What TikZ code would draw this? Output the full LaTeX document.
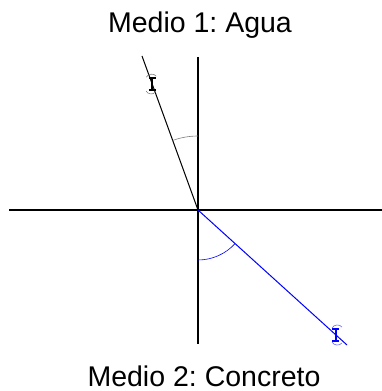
\documentclass[tikz,border=0pt]{standalone}
\usepackage{fontspec}
\setmainfont{Liberation Sans}
\usetikzlibrary{positioning}
\frenchspacing

\begin{document}
\begin{tikzpicture}[x=1bp, y=1bp, axis/.style={draw, line width=1.2bp},
    ray/.style={draw, line width=1bp}, anglemark/.style={draw, line width=0.6bp},
    beam/.style={line width=1.6bp}, label/.style={font=\fontsize{28.5bp}{34bp}\selectfont, anchor=base}]

  \useasboundingbox (0,0) rectangle (382,391);

  % axes and rays
  \coordinate (O) at (198,181);
  \coordinate (W) at (9,181);
  \coordinate (E) at (382,181);
  \coordinate (N) at (198,334);
  \coordinate (S) at (198,47);
  \coordinate (inc) at (142,335);
  \coordinate (ref) at (347,46);

  \node[label] (top) at (200,359) {Medio 1: Agua};
  \node[label] (bot) at (204,5) {Medio 2: Concreto};

  \draw[axis] (W) -- (E);
  \draw[axis] (N) -- (S);
  \draw[ray, black] (O) -- coordinate[pos=0.817] (m1) (inc);
  \draw[ray, blue] (O) -- coordinate[pos=0.926] (m2) (ref);

  % angle marks
  \draw[anglemark, gray] (O) ++(90:74) arc[start angle=90, end angle=110, radius=74];
  \draw[anglemark, blue] (O) ++(-90:50) arc[start angle=-90, end angle=-42, radius=50];

  % little markers on the rays
  \draw[beam, black] ([yshift=-6]m1) -- ([yshift=6]m1);
  \draw[beam, black] ([xshift=-3.5, yshift=6]m1) -- ([xshift=3.5, yshift=6]m1);
  \draw[beam, black] ([xshift=-3.5, yshift=-6]m1) -- ([xshift=3.5, yshift=-6]m1);
  \draw[gray, line width=0.6bp] ([xshift=-6, yshift=7]m1) to[bend left=60] ([xshift=4, yshift=8]m1);
  \draw[gray, line width=0.6bp] ([xshift=-6, yshift=-7]m1) to[bend right=60] ([xshift=3, yshift=-8]m1);

  \draw[beam, blue] ([yshift=-6]m2) -- ([yshift=6]m2);
  \draw[beam, blue] ([xshift=-3.5, yshift=6]m2) -- ([xshift=3.5, yshift=6]m2);
  \draw[beam, blue] ([xshift=-3.5, yshift=-6]m2) -- ([xshift=3.5, yshift=-6]m2);
  \draw[blue!60, line width=0.6bp] ([xshift=-4, yshift=7]m2) to[bend left=60] ([xshift=6, yshift=8]m2);
  \draw[blue!60, line width=0.6bp] ([xshift=-4, yshift=-7]m2) to[bend right=60] ([xshift=6, yshift=-8]m2);

\end{tikzpicture}
\end{document}
